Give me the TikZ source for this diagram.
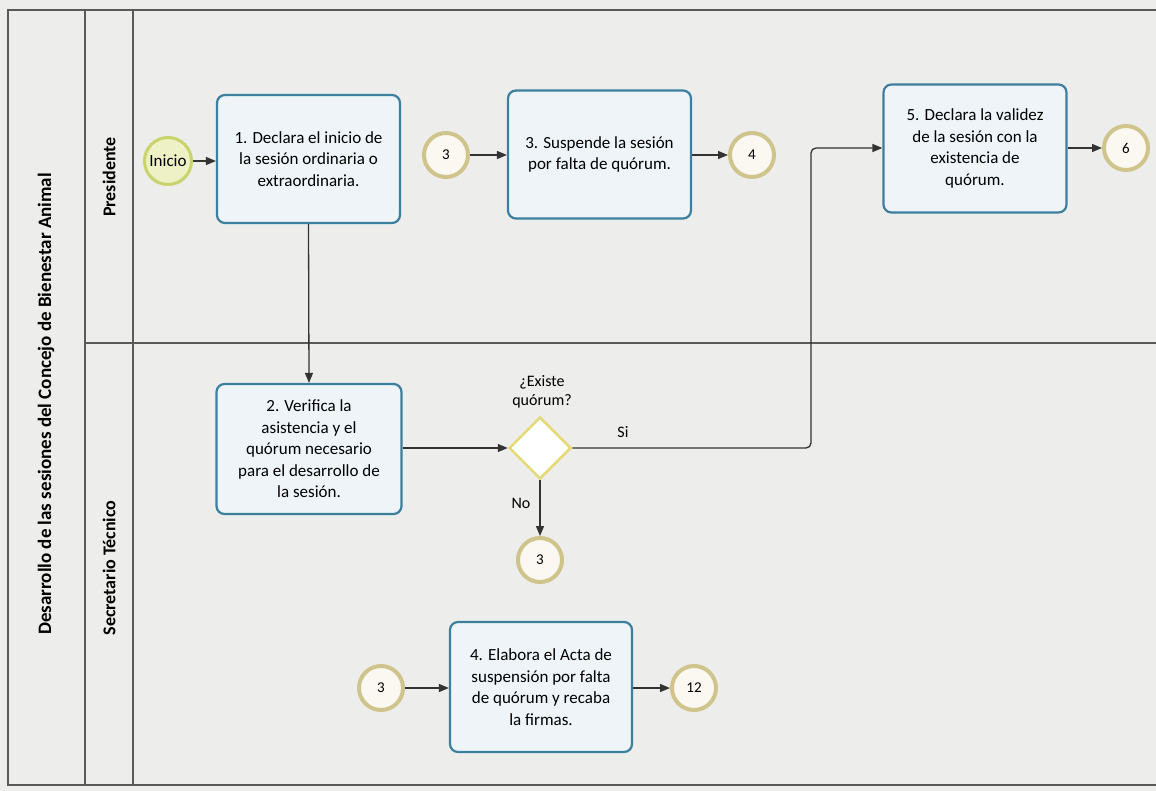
\documentclass[tikz,border=0pt]{standalone}
\usepackage{fontspec}
\setmainfont{Carlito}
\usetikzlibrary{arrows.meta,shapes.geometric}
\definecolor{bgc}{HTML}{EDEDEC}
\definecolor{taskc}{HTML}{3C7F9E}
\definecolor{taskf}{HTML}{EEF4F8}
\definecolor{evc}{HTML}{CFC48C}
\definecolor{evf}{HTML}{FAF8F0}
\definecolor{startc}{HTML}{C8D46A}
\definecolor{startf}{HTML}{EEF1C6}
\definecolor{gwc}{HTML}{E4DA78}
\definecolor{arrc}{HTML}{333333}
\definecolor{linec}{HTML}{5A5A5A}
\begin{document}
\begin{tikzpicture}[x=1pt,y=-1pt,
  taskbox/.style={draw=taskc, fill=taskf, line width=2.2pt, rounded corners=8pt,
    minimum width=183pt, minimum height=128pt, align=center, inner sep=2pt,
    font=\fontsize{17}{21.5}\selectfont},
  evnode/.style={circle, draw=evc, fill=evf, line width=4pt, minimum size=44pt, inner sep=0pt,
    font=\fontsize{15}{15}\selectfont},
  startnode/.style={circle, draw=startc, fill=startf, line width=3pt, minimum size=47pt, inner sep=0pt,
    font=\fontsize{17}{17}\selectfont},
  gwnode/.style={diamond, draw=gwc, fill=white, line width=2.5pt, minimum width=62pt, minimum height=62pt, inner sep=0pt, aspect=1},
  conn/.style={draw=arrc, line width=1.3pt, -{Triangle[length=10pt,width=8pt]}},
  lanetxt/.style={rotate=90, font=\fontsize{18}{18}\selectfont\bfseries},
  lbl/.style={font=\fontsize{16}{19}\selectfont, align=center},
  poolline/.style={draw=linec, line width=1.2pt}
]
\fill[bgc] (0,0) rectangle (1156,791);
\useasboundingbox (0,0) rectangle (1156,791);

% pool and lanes
\draw[poolline] (1156,10) -- (8,10) -- (8,785) -- (1156,785);
\draw[poolline] (85,10) -- (85,785);
\draw[poolline] (133,10) -- (133,785);
\draw[poolline] (85,343) -- (1156,343);

\node[lanetxt, font=\fontsize{19}{19}\selectfont\bfseries] (pool) at (46,404) {Desarrollo de las sesiones del Concejo de Bienestar Animal};
\node[lanetxt] (lane1) at (109,177) {Presidente};
\node[lanetxt] (lane2) at (109,568) {Secretario Técnico};

% nodes
\node[startnode] (inicio) at (168,161) {Inicio};
\node[taskbox] (t1) at (308.5,159) {1. Declara el inicio de\\la sesión ordinaria o\\extraordinaria.};
\node[evnode] (e3a) at (446,155) {3};
\node[taskbox] (t3) at (599.5,154.5) {3. Suspende la sesión\\por falta de quórum.};
\node[evnode] (e4) at (752,155) {4};
\node[taskbox] (t5) at (975,148.5) {5. Declara la validez\\de la sesión con la\\existencia de\\quórum.};
\node[evnode] (e6) at (1126,148) {6};

\node[taskbox, minimum width=185pt, minimum height=130pt] (t2) at (309,449) {2. Verifica la\\asistencia y el\\quórum necesario\\para el desarrollo de\\la sesión.};
\node[gwnode] (gw) at (540,448) {};
\node[lbl] (gwl) at (542,392) {¿Existe\\quórum?};
\node[evnode] (e3b) at (540,560) {3};

\node[evnode] (e3c) at (381,688) {3};
\node[taskbox, minimum width=182pt, minimum height=130pt] (t4) at (541,687) {4. Elabora el Acta de\\suspensión por falta\\de quórum y recaba\\la firmas.};
\node[evnode] (e12) at (694,688) {12};

% connectors
\draw[conn] (inicio) -- (t1.west |- inicio);
\draw[conn] (e3a) -- (t3.west |- e3a);
\draw[conn] (t3.east |- e4) -- (e4);
\draw[conn] (t5.east |- e6) -- (e6);
\draw[conn] (t1.south) -- (t2.north);
\draw[conn] (t2.east |- gw) -- (gw.west);
\draw[conn, rounded corners=5pt] (gw.east) -- (811,448) -- (811,148) -- (t5.west |- 0,148);
\draw[conn] (gw.south) -- (e3b.north);
\draw[conn] (e3c) -- (t4.west |- e3c);
\draw[conn] (t4.east |- e12) -- (e12);

\node[lbl] (si) at (623,432) {Si};
\node[lbl] (no) at (521,503) {No};
\end{tikzpicture}
\end{document}
